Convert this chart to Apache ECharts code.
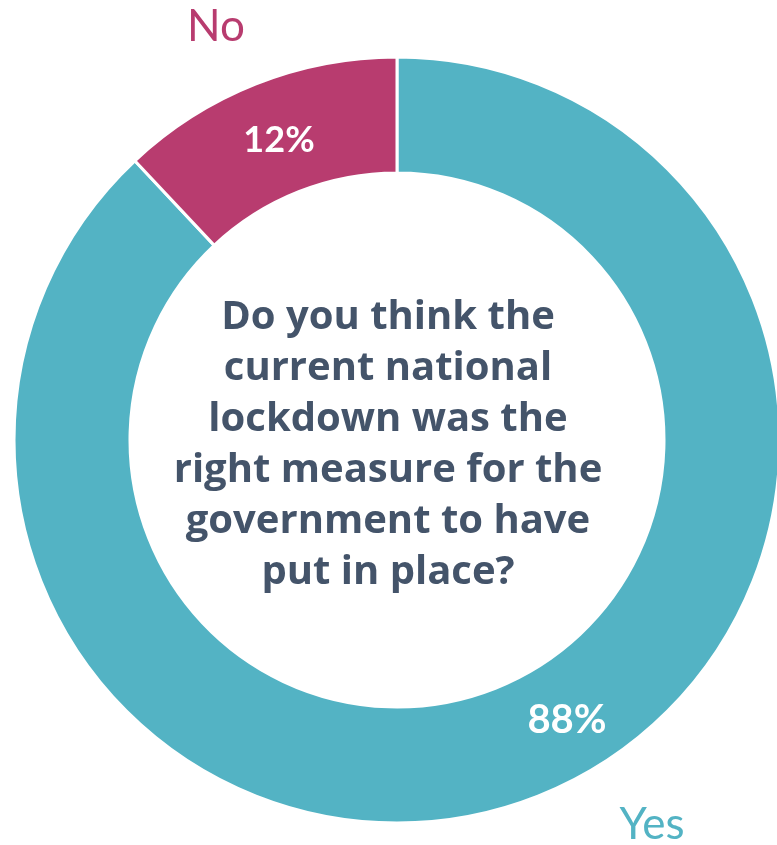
<!DOCTYPE html>
<html>
<head>
<meta charset="utf-8">
<script src="https://cdn.jsdelivr.net/npm/echarts@6/dist/echarts.min.js"></script>
<style>html,body{margin:0;padding:0;background:#fff}#c{width:777px;height:845px}</style>
</head>
<body>
<div id="c"></div>
<script>
const categories = ['Yes', 'No'];
const values = [88, 12];
const colors = ['#53B3C4', '#B83C6F'];
const question = 'Do you think the\ncurrent national\nlockdown was the\nright measure for the\ngovernment to have\nput in place?';

const chart = echarts.init(document.getElementById('c'), null, {renderer: 'canvas'});
const cx = 397, cy = 440;
const font = 'Lato, "Open Sans", sans-serif';
const qfont = '"Open Sans", Lato, sans-serif';
chart.setOption({
  animation: false,
  series: [{
    type: 'pie',
    center: [cx, cy],
    radius: [267, 383],
    startAngle: 90,
    clockwise: true,
    label: {show: false},
    labelLine: {show: false},
    itemStyle: {borderColor: '#fff', borderWidth: 3},
    data: categories.map((c, i) => ({name: c, value: values[i], itemStyle: {color: colors[i]}}))
  }],
  graphic: [
    {type: 'text', z: 10,
     style: {text: question, x: 388, y: cy + 5, align: 'center', verticalAlign: 'middle',
       font: 'bold 40px ' + qfont, fill: '#44546A', lineHeight: 51}},
    {type: 'text', z: 10, style: {text: values[1] + '%', x: 279, y: 140, align: 'center', verticalAlign: 'middle',
       font: 'bold 36px ' + font, fill: '#fff'}},
    {type: 'text', z: 10, style: {text: values[0] + '%', x: 567, y: 720, align: 'center', verticalAlign: 'middle',
       font: 'bold 40px ' + font, fill: '#fff'}},
    {type: 'text', z: 10, style: {text: categories[1], x: 216, y: 27, align: 'center', verticalAlign: 'middle',
       font: '44px ' + font, fill: colors[1]}},
    {type: 'text', z: 10, style: {text: categories[0], x: 652, y: 825, align: 'center', verticalAlign: 'middle',
       font: '44px ' + font, fill: colors[0]}}
  ]
});
</script>
</body>
</html>
